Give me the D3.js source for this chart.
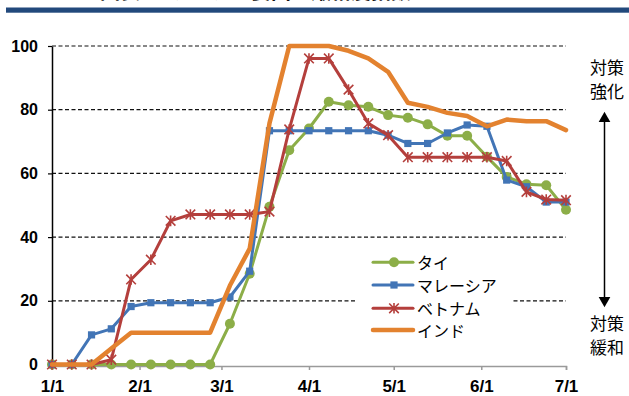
<!DOCTYPE html>
<html>
<head>
<meta charset="utf-8">
<script src="https://cdn.jsdelivr.net/npm/d3@7"></script>
<style>
  html, body { margin: 0; padding: 0; background: #fff; }
  svg { display: block; }
</style>
</head>
<body>
<svg id="chart" width="629" height="396"></svg>
<script>
// Weekly observation dates (2020)
const dates = [
  "2020-01-01","2020-01-08","2020-01-15","2020-01-22","2020-01-29",
  "2020-02-05","2020-02-12","2020-02-19","2020-02-26",
  "2020-03-04","2020-03-11","2020-03-18","2020-03-25",
  "2020-04-01","2020-04-08","2020-04-15","2020-04-22","2020-04-29",
  "2020-05-06","2020-05-13","2020-05-20","2020-05-27",
  "2020-06-03","2020-06-10","2020-06-17","2020-06-24","2020-07-01"
];

// Stringency index by country
const thailand = [0,0,0,0,0,0,0,0,0,12.8,28.5,49.5,67.3,74.1,82.5,81.4,80.9,78.3,77.5,75.4,71.8,71.8,65.2,58.9,56.6,56.3,48.6];
const malaysia = [0,0,9.3,11.2,18.2,19.4,19.4,19.4,19.4,21.2,29.3,73.4,73.4,73.4,73.4,73.4,73.4,72.0,69.4,69.4,72.7,75.2,74.8,57.9,55.8,51.0,51.0];
const vietnam  = [0,0,0,1.5,26.7,32.9,45.1,47.1,47.1,47.1,47.1,48.0,73.8,96.1,96.1,86.3,75.7,72.0,65.1,65.1,65.1,65.1,65.1,63.9,54.2,51.8,51.6];
const india    = [0,0,0,5,10,10,10,10,10,24.8,36.4,75.7,100,100,100,98.5,96.1,91.9,82.2,80.9,79.0,78.0,74.8,76.9,76.4,76.4,73.6];

const seriesNames = ["タイ","マレーシア","ベトナム","インド"];
const yTicks = [0,20,40,60,80,100];
const xTicks = ["2020-01-01","2020-02-01","2020-03-01","2020-04-01","2020-05-01","2020-06-01","2020-07-01"];
const sideTop = ["対策","強化"];
const sideBottom = ["対策","緩和"];
const titleText = "図表2　アジア主要国の厳格度指数";

const parse = d3.timeParse("%Y-%m-%d");
const svg = d3.select("#chart");
const JP = "'Noto Sans CJK JP','Noto Sans',sans-serif";
const NUM = "'Liberation Sans',Arial,sans-serif";

// Header: title (sitting above the frame) and rule
svg.append("text")
  .attr("x", 100).attr("y", -1)
  .attr("font-family", JP).attr("font-size", 20).attr("font-weight", "bold")
  .attr("fill", "#111")
  .text(titleText);
svg.append("rect")
  .attr("x", 6).attr("y", 7.5).attr("width", 623).attr("height", 5.2)
  .attr("fill", "#22497c");

const x = d3.scaleTime()
  .domain([parse("2020-01-01"), parse("2020-07-01")])
  .range([52, 566]);
const y = d3.scaleLinear().domain([0, 100]).range([364.5, 46]);

// Dashed gridlines
svg.append("g")
  .selectAll("line")
  .data(yTicks.filter(d => d > 0))
  .join("line")
  .attr("x1", 52).attr("x2", 566)
  .attr("y1", d => y(d)).attr("y2", d => y(d))
  .attr("stroke", "#111").attr("stroke-width", 1.2)
  .attr("stroke-dasharray", "4,2.5");

// X axis
const xAxis = svg.append("g")
  .attr("transform", `translate(0,${y(0) + 1.5})`)
  .call(d3.axisBottom(x)
    .tickValues(xTicks.map(parse))
    .tickFormat(d3.timeFormat("%-m/%-d"))
    .tickSize(4).tickPadding(10));
xAxis.select(".domain").attr("stroke", "#9a9a9a").attr("stroke-width", 1.5);
xAxis.selectAll(".tick line").attr("stroke", "#9a9a9a").attr("stroke-width", 1.5);
xAxis.selectAll(".tick text")
  .attr("font-family", NUM).attr("font-size", 17).attr("font-weight", "bold").attr("fill", "#000");

// Y axis
const yAxis = svg.append("g")
  .attr("transform", "translate(52,0)")
  .call(d3.axisLeft(y).tickValues(yTicks).tickSize(4).tickPadding(10).tickSizeOuter(0));
yAxis.select(".domain").attr("stroke", "#000").attr("stroke-width", 1.5);
yAxis.selectAll(".tick line").attr("stroke", "#000").attr("stroke-width", 1.2);
yAxis.selectAll(".tick text")
  .attr("font-family", NUM).attr("font-size", 16).attr("font-weight", "bold").attr("fill", "#000");

// Series definitions
const colors = ["#8cae48", "#4275b6", "#b43f3c", "#e3822f"];
const widths = [3, 3, 3, 4.5];
const markers = ["circle", "square", "star", "none"];
const values = [thailand, malaysia, vietnam, india];

function drawMarker(g, type, cx, cy, color) {
  if (type === "circle") {
    g.append("circle").attr("cx", cx).attr("cy", cy).attr("r", 5).attr("fill", color);
  } else if (type === "square") {
    g.append("rect").attr("x", cx - 3.6).attr("y", cy - 3.6)
      .attr("width", 7.2).attr("height", 7.2).attr("fill", color);
  } else if (type === "star") {
    const s = 4.8;
    g.append("path")
      .attr("d", `M${cx - s},${cy - s}L${cx + s},${cy + s}M${cx - s},${cy + s}L${cx + s},${cy - s}M${cx},${cy - s * 1.1}L${cx},${cy + s * 1.1}`)
      .attr("stroke", color).attr("stroke-width", 1.6).attr("fill", "none");
  }
}

const line = d3.line()
  .x(d => x(d.date))
  .y(d => y(d.v));

values.forEach((vals, k) => {
  const pts = vals.map((v, i) => ({ date: parse(dates[i]), v }));
  const g = svg.append("g");
  g.append("path")
    .datum(pts)
    .attr("d", line)
    .attr("fill", "none")
    .attr("stroke", colors[k])
    .attr("stroke-width", widths[k])
    .attr("stroke-linejoin", "round")
    .attr("stroke-linecap", "round");
  pts.forEach(p => drawMarker(g, markers[k], x(p.date), y(p.v), colors[k]));
});

// Legend
const legend = svg.append("g");
legend.append("rect")
  .attr("x", 355).attr("y", 250).attr("width", 156).attr("height", 92)
  .attr("fill", "#fff");
const legendY = [262.3, 285, 308.3, 330];
seriesNames.forEach((name, k) => {
  const ly = legendY[k];
  legend.append("line")
    .attr("x1", 373).attr("x2", 413).attr("y1", ly).attr("y2", ly)
    .attr("stroke", colors[k]).attr("stroke-width", widths[k])
    .attr("stroke-linecap", "round");
  drawMarker(legend, markers[k], 394, ly, colors[k]);
  legend.append("text")
    .attr("x", 417).attr("y", ly)
    .attr("dominant-baseline", "central")
    .attr("font-family", JP).attr("font-size", 16).attr("fill", "#000")
    .text(name);
});

// Side annotation with double arrow
const side = svg.append("g");
sideTop.forEach((t, i) => {
  side.append("text").attr("x", 590).attr("y", 66.5 + i * 24)
    .attr("dominant-baseline", "central")
    .attr("font-family", JP).attr("font-size", 17).attr("fill", "#000").text(t);
});
sideBottom.forEach((t, i) => {
  side.append("text").attr("x", 590).attr("y", 322 + i * 24)
    .attr("dominant-baseline", "central")
    .attr("font-family", JP).attr("font-size", 17).attr("fill", "#000").text(t);
});
side.append("line")
  .attr("x1", 604.5).attr("x2", 604.5).attr("y1", 118).attr("y2", 300)
  .attr("stroke", "#000").attr("stroke-width", 1.5);
side.append("path").attr("d", "M604.5,111.7L610.3,122L598.7,122Z").attr("fill", "#000");
side.append("path").attr("d", "M604.5,307.3L610.3,297L598.7,297Z").attr("fill", "#000");
</script>
</body>
</html>
